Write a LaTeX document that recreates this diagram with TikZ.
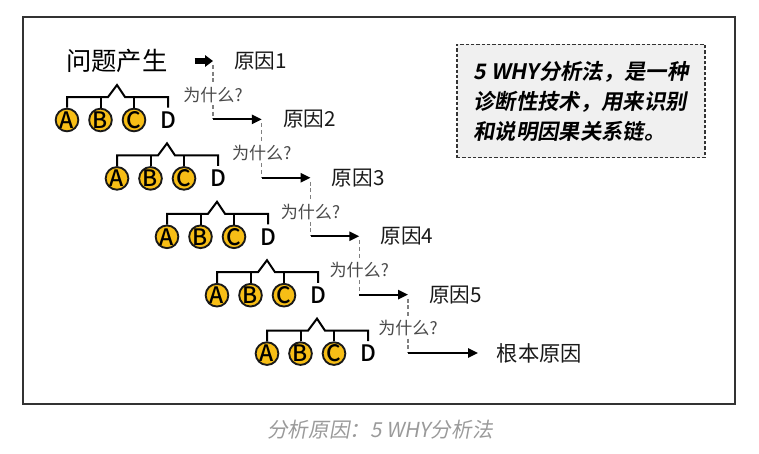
\documentclass[tikz,border=0pt]{standalone}
\usepackage{fontspec}
\setmainfont{Noto Sans CJK SC}
\newfontfamily\letterfont{Noto Sans CJK SC Medium}
\newfontfamily\notefont{Noto Sans CJK SC Bold}[FakeSlant=0.18]
\newfontfamily\capfont{Noto Sans CJK SC}[FakeSlant=0.18]
\usetikzlibrary{positioning,arrows.meta}

\definecolor{coinyellow}{HTML}{F7BE16}
\definecolor{framegray}{HTML}{333333}
\definecolor{askgray}{HTML}{4A4A4A}
\definecolor{notefill}{HTML}{F0F0F0}
\definecolor{capgray}{HTML}{9A9A9A}

\begin{document}
\begin{tikzpicture}[x=0.75pt, y=-0.75pt, line join=miter,
  coin/.style={circle, draw=black!90, line width=1.4pt, fill=coinyellow,
               minimum size=17pt, inner sep=0pt,
               font=\letterfont\fontsize{17}{17}\selectfont},
  bare/.style={coin, draw=none, fill=none},
  branch/.style={line width=1.5pt},
  cause/.style={anchor=west, inner sep=0pt, text=black!90,
                font=\fontsize{15.5}{16}\selectfont},
  ask/.style={fill=white, text=askgray, inner sep=1.5pt,
              font=\fontsize{12.8}{13}\selectfont},
  whyline/.style={black!50, line width=1.1pt, dash pattern=on 3pt off 2pt},
  nextarrow/.style={-{Triangle[length=7.5pt,width=7pt]}, line width=1.4pt}]

  \useasboundingbox (0,0) rectangle (759,453);

  % ── frame and caption ─────────────────────────────────────────────────────

  \draw[framegray, line width=1pt] (23,17) rectangle (735,404);
  \node[text=capgray, font=\capfont\fontsize{15.5}{16}\selectfont]
    (caption) at (380,430) {分析原因：5 WHY分析法};

  % ── note box (top right) ──────────────────────────────────────────────────

  \node[draw=framegray, fill=notefill, line width=0.8pt,
        dash pattern=on 2.5pt off 1.5pt,
        minimum width=186pt, minimum height=85pt,
        align=left, font=\notefont\fontsize{16}{22.5}\selectfont]
    (note) at (581,101) {5 WHY分析法，是一种\\诊断性技术，用来识别\\和说明因果关系链。};

  % ── problem and chain of causes ───────────────────────────────────────────

  \node[anchor=west, inner sep=0pt, font=\fontsize{19}{19}\selectfont]
    (problem) at (66,61) {问题产生};

  \foreach \i in {0,...,4}
    \coordinate (t\i) at ({213+48.75*\i},{61+58.4*\i});
  \coordinate (t5) at (478,353);

  \draw[line width=3.8pt, -{Triangle[length=6pt,width=8.5pt]}]
    ([xshift=20pt]problem.east) -- (t0);

  \foreach \i/\n in {0/1,1/2,2/3,3/4,4/5}
    \node[cause, right=15.75pt of t\i] (cause\n) {原因\n};
  \node[cause, right=14pt of t5, font=\fontsize{16}{16}\selectfont] (root) {根本原因};

  % Why? steps
  \foreach \i/\j in {0/1,1/2,2/3,3/4,4/5} {
    \draw[whyline] ([yshift=-3pt]t\i) -- (t\i |- t\j)
      node[ask, pos=0.55] {为什么?};
    \draw[nextarrow] (t\i |- t\j) -- (t\j);
  }

  % ── A B C D trees ─────────────────────────────────────────────────────────

  \foreach \i in {0,...,4} {
    \pgfmathsetmacro{\ax}{67+50*\i}
    \pgfmathsetmacro{\cy}{120+58.4*\i}
    \node[coin] (A\i) at (\ax,\cy) {A};
    \node[coin] (B\i) at ({\ax+33.5},\cy) {B};
    \node[coin] (C\i) at ({\ax+67},\cy) {C};
    \node[bare] (D\i) at ({\ax+101},\cy) {D};
    \coordinate (bar\i) at (\ax,{\cy-23});
    \draw[branch] (A\i.north) -- (bar\i) -- ++(41,0) -- ++(9,-12)
      -- ++(8,12) -| (D\i.north);
    \draw[branch] (B\i.north) -- (B\i.north |- bar\i);
    \draw[branch] (C\i.north) -- (C\i.north |- bar\i);
  }

\end{tikzpicture}
\end{document}
